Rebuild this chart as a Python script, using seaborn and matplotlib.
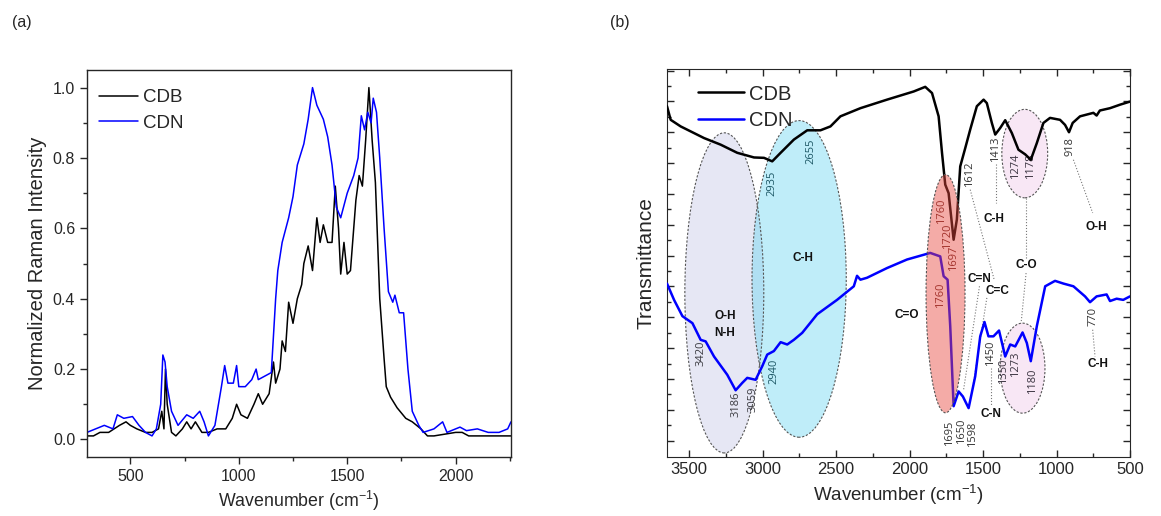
import numpy as np
import pandas as pd
import matplotlib
matplotlib.use("Agg")
import matplotlib.pyplot as plt
from matplotlib.patches import Ellipse
from matplotlib.ticker import MultipleLocator
import seaborn as sns

# ---------------- data: (a) Raman ----------------
raman_cdn_x = [300, 340, 380, 420, 440, 470, 510, 540, 570, 600, 620, 640, 650, 660, 670, 690, 720,
               760, 790, 820, 840, 860, 890, 920, 935, 950, 975, 990, 1000, 1030, 1060, 1080, 1090,
               1120, 1150, 1170, 1180, 1200, 1230, 1250, 1270, 1300, 1320, 1340, 1360, 1390, 1410,
               1430, 1450, 1470, 1500, 1530, 1550, 1565, 1580, 1595, 1610, 1620, 1635, 1650, 1670,
               1690, 1710, 1720, 1740, 1760, 1780, 1800, 1830, 1850, 1900, 1940, 1960, 2000, 2020,
               2050, 2100, 2150, 2200, 2240, 2255]
raman_cdn_y = [0.02, 0.03, 0.04, 0.03, 0.07, 0.06, 0.065, 0.04, 0.02, 0.01, 0.03, 0.10, 0.24, 0.22,
               0.15, 0.08, 0.04, 0.07, 0.06, 0.08, 0.05, 0.01, 0.04, 0.15, 0.21, 0.16, 0.16, 0.21, 0.15,
               0.15, 0.17, 0.20, 0.17, 0.18, 0.19, 0.40, 0.48, 0.56, 0.63, 0.69, 0.78, 0.84, 0.91, 1.00,
               0.95, 0.91, 0.86, 0.78, 0.66, 0.63, 0.70, 0.75, 0.80, 0.92, 0.88, 0.93, 0.90, 0.97, 0.93,
               0.80, 0.60, 0.42, 0.39, 0.41, 0.36, 0.36, 0.20, 0.08, 0.04, 0.02, 0.03, 0.05, 0.02, 0.03,
               0.035, 0.025, 0.03, 0.02, 0.02, 0.03, 0.05]
raman_cdb_x = [300, 330, 360, 400, 450, 480, 500, 530, 570, 600, 630, 645, 655, 662, 670, 690, 710,
               740, 760, 780, 800, 830, 860, 900, 940, 970, 990, 1010, 1040, 1070, 1090, 1110, 1140,
               1160, 1170, 1190, 1200, 1215, 1230, 1250, 1270, 1290, 1300, 1320, 1340, 1360, 1375,
               1390, 1410, 1430, 1445, 1460, 1470, 1485, 1500, 1515, 1540, 1555, 1570, 1585, 1600,
               1615, 1630, 1650, 1670, 1680, 1700, 1730, 1770, 1800, 1840, 1870, 1900, 2000, 2030,
               2060, 2100, 2255]
raman_cdb_y = [0.01, 0.01, 0.02, 0.02, 0.04, 0.05, 0.04, 0.03, 0.02, 0.02, 0.03, 0.08, 0.03, 0.20,
               0.10, 0.02, 0.01, 0.03, 0.05, 0.03, 0.05, 0.02, 0.02, 0.03, 0.03, 0.06, 0.10, 0.07, 0.06,
               0.10, 0.13, 0.10, 0.13, 0.22, 0.16, 0.20, 0.28, 0.25, 0.39, 0.33, 0.40, 0.44, 0.50, 0.55,
               0.48, 0.63, 0.56, 0.61, 0.56, 0.56, 0.72, 0.60, 0.47, 0.56, 0.47, 0.48, 0.68, 0.75, 0.72,
               0.85, 1.00, 0.85, 0.73, 0.40, 0.23, 0.15, 0.12, 0.09, 0.06, 0.05, 0.03, 0.01, 0.01, 0.02,
               0.02, 0.01, 0.01, 0.01]

# ---------------- data: (b) FTIR ----------------
ftir_cdb_x = [3650, 3625, 3557, 3398, 3285, 3172, 3058, 2990, 2934, 2877, 2787, 2696, 2606, 2538,
              2470, 2334, 2153, 1972, 1893, 1847, 1802, 1779, 1757, 1734, 1700, 1678, 1655, 1621,
              1587, 1542, 1496, 1474, 1440, 1417, 1383, 1349, 1304, 1259, 1213, 1175, 1134, 1089,
              1044, 976, 942, 915, 890, 840, 749, 727, 705, 636, 568, 500]
ftir_cdb_y = [0.904, 0.869, 0.852, 0.822, 0.805, 0.784, 0.772, 0.771, 0.762, 0.784, 0.818, 0.842,
              0.842, 0.852, 0.878, 0.899, 0.921, 0.942, 0.954, 0.938, 0.878, 0.784, 0.702, 0.680,
              0.560, 0.612, 0.749, 0.796, 0.844, 0.904, 0.921, 0.912, 0.861, 0.831, 0.848, 0.868,
              0.835, 0.792, 0.780, 0.766, 0.809, 0.861, 0.874, 0.869, 0.856, 0.837, 0.861, 0.878,
              0.887, 0.880, 0.893, 0.899, 0.908, 0.916]
ftir_cdn_x = [3650, 3602, 3545, 3477, 3421, 3387, 3330, 3240, 3183, 3138, 3104, 3047, 3002, 2968,
              2923, 2877, 2832, 2787, 2730, 2628, 2493, 2379, 2357, 2334, 2289, 2153, 2017, 1859,
              1791, 1768, 1741, 1723, 1700, 1666, 1637, 1598, 1553, 1519, 1490, 1463, 1429, 1391,
              1349, 1315, 1281, 1231, 1202, 1175, 1134, 1077, 1010, 953, 885, 806, 772, 727, 659,
              636, 591, 546, 500]
ftir_cdn_y = [0.447, 0.405, 0.363, 0.345, 0.302, 0.298, 0.259, 0.212, 0.172, 0.191, 0.204, 0.199,
              0.234, 0.264, 0.273, 0.296, 0.290, 0.302, 0.320, 0.368, 0.405, 0.440, 0.467, 0.457,
              0.462, 0.487, 0.509, 0.526, 0.517, 0.466, 0.457, 0.337, 0.131, 0.169, 0.156, 0.126,
              0.208, 0.311, 0.348, 0.311, 0.311, 0.326, 0.259, 0.290, 0.285, 0.321, 0.294, 0.247,
              0.337, 0.440, 0.454, 0.447, 0.440, 0.414, 0.399, 0.414, 0.419, 0.402, 0.408, 0.405,
              0.414]

# peak numbers: (text, wavenumber, y, colour group)
peak_labels = ["2935", "2655", "3420", "3186", "3059", "2940", "1760", "1720", "1697", "1760",
               "1612", "1413", "1274", "1178", "918", "1695", "1650", "1598", "1450", "1350",
               "1273", "1180", "770"]
peak_x = [2934, 2669, 3421, 3179, 3065, 2923, 1779, 1739, 1700, 1786, 1591, 1413, 1281, 1179, 908,
          1726, 1649, 1572, 1447, 1358, 1277, 1164, 754]
peak_y = [0.706, 0.788, 0.268, 0.135, 0.148, 0.221, 0.633, 0.569, 0.513, 0.418, 0.728, 0.792,
          0.749, 0.749, 0.801, 0.062, 0.066, 0.058, 0.268, 0.221, 0.238, 0.195, 0.363]
peak_col = ["#1d5866", "#1d5866", "#3a3a40", "#3a3a40", "#3a3a40", "#1d5866", "#6b2420", "#6b2420",
            "#6b2420", "#6b2420", "#333333", "#333333", "#3a3340", "#3a3340", "#333333", "#333333",
            "#333333", "#333333", "#333333", "#3a3340", "#3a3340", "#3a3340", "#333333"]

group_labels = ["O-H\nN-H", "C-H", "C=O", "C=N", "C=C", "C-H", "C-O", "O-H", "C-N", "C-H"]
group_x = [3255, 2723, 2022, 1524, 1399, 1428, 1207, 731, 1447, 715]
group_y = [0.341, 0.513, 0.367, 0.460, 0.429, 0.614, 0.494, 0.592, 0.111, 0.240]

# leader lines (x0, x1, y0, y1)
leader_x0 = [1413, 885, 1587, 1207, 1207, 1524, 1474, 1447, 754]
leader_x1 = [1413, 754, 1424, 1207, 1241, 1632, 1576, 1447, 738]
leader_y0 = [0.754, 0.766, 0.689, 0.668, 0.474, 0.440, 0.410, 0.229, 0.328]
leader_y1 = [0.655, 0.629, 0.457, 0.513, 0.345, 0.174, 0.165, 0.135, 0.259]

# ellipses: centre x, centre y, width, height, colour, alpha
ell_cx = [3260, 2751, 1755, 1216, 1231]
ell_cy = [0.423, 0.459, 0.421, 0.782, 0.229]
ell_w = [537, 641, 265, 312, 305]
ell_h = [0.825, 0.816, 0.614, 0.228, 0.232]
ell_col = ["#c4c6e6", "#5fd3f0", "#e8453c", "#e8b0e0", "#e8b0e0"]
ell_alpha = [0.42, 0.40, 0.45, 0.30, 0.30]
ell_on_top = [False, False, True, False, False]

# ---------------- plotting ----------------
sns.set_style("ticks")
plt.rcParams["font.family"] = ["Liberation Sans", "DejaVu Sans"]
plt.rcParams["mathtext.fontset"] = "custom"
plt.rcParams["mathtext.rm"] = "Liberation Sans"

fig = plt.figure(figsize=(11.61, 5.16), dpi=100)
axa = fig.add_axes([0.0749, 0.1143, 0.3652, 0.75])
axb = fig.add_axes([0.5745, 0.1143, 0.3988, 0.752])

df_a = pd.concat([
    pd.DataFrame({"x": raman_cdb_x, "y": raman_cdb_y, "s": "CDB"}),
    pd.DataFrame({"x": raman_cdn_x, "y": raman_cdn_y, "s": "CDN"}),
])
sns.lineplot(data=df_a, x="x", y="y", hue="s", palette={"CDB": "black", "CDN": "#0000ff"},
             sort=False, estimator=None, lw=1.1, ax=axa)
axa.set_xlim(300, 2255)
axa.set_ylim(-0.05, 1.05)
axa.xaxis.set_major_locator(MultipleLocator(500))
axa.xaxis.set_minor_locator(MultipleLocator(250))
axa.yaxis.set_minor_locator(MultipleLocator(0.1))
axa.set_yticks(np.arange(0, 1.01, 0.2))
axa.set_yticklabels([f"{v:.1f}" for v in np.arange(0, 1.01, 0.2)])
axa.tick_params(which="major", direction="out", length=5, width=1, labelsize=11.5)
axa.tick_params(which="minor", direction="out", length=3, width=1)
axa.set_xlabel("Wavenumber (cm$^{-1}$)", fontsize=12.8)
axa.set_ylabel("Normalized Raman Intensity", fontsize=14.5)
for sp in axa.spines.values():
    sp.set_linewidth(1.0)
axa.legend(loc="upper left", frameon=False, fontsize=13.5, handlelength=2.1,
           borderaxespad=0.0, borderpad=0.0, labelspacing=0.45, handletextpad=0.25,
           bbox_to_anchor=(0.028, 0.95))

df_b = pd.concat([
    pd.DataFrame({"x": ftir_cdb_x, "y": ftir_cdb_y, "s": "CDB"}),
    pd.DataFrame({"x": ftir_cdn_x, "y": ftir_cdn_y, "s": "CDN"}),
])
sns.lineplot(data=df_b, x="x", y="y", hue="s", palette={"CDB": "black", "CDN": "#0000ff"},
             sort=False, estimator=None, lw=1.8, ax=axb, zorder=5.5)
axb.set_xlim(3650, 500)
axb.set_ylim(0, 1)
axb.xaxis.set_major_locator(MultipleLocator(500))
axb.xaxis.set_minor_locator(MultipleLocator(250))
axb.set_yticks(np.arange(0.042, 1.0, 0.0795))
axb.set_yticks(np.arange(0.042 + 0.03975, 1.0, 0.0795), minor=True)
axb.tick_params(which="both", direction="in", top=True, right=True, labelleft=False,
                labelsize=12)
axb.tick_params(which="major", length=5, width=1)
axb.tick_params(which="minor", length=3, width=1)
axb.set_xlabel("Wavenumber (cm$^{-1}$)", fontsize=13.5)
axb.set_ylabel("Transmittance", fontsize=15, labelpad=8)
axb.legend(loc="upper left", frameon=False, fontsize=14.5, handlelength=2.3,
           borderaxespad=0.0, borderpad=0.0, labelspacing=0.38, handletextpad=0.25,
           bbox_to_anchor=(0.067, 0.96))

for x0, x1, y0, y1 in zip(leader_x0, leader_x1, leader_y0, leader_y1):
    axb.plot([x0, x1], [y0, y1], ls=":", color="#777777", lw=0.8, zorder=3)
for t, x, y, c in zip(peak_labels, peak_x, peak_y, peak_col):
    axb.text(x, y, t, rotation=90, ha="center", va="center", fontsize=8, color=c,
             family=["Open Sans", "DejaVu Sans"], zorder=4)
for t, x, y in zip(group_labels, group_x, group_y):
    axb.text(x, y, t, ha="center", va="center", fontsize=8.5, fontweight="bold", color="#111111",
             linespacing=1.6, zorder=4)
for cx, cy, w, h, c, a, top in zip(ell_cx, ell_cy, ell_w, ell_h, ell_col, ell_alpha, ell_on_top):
    z = 7 if top else 2
    axb.add_patch(Ellipse((cx, cy), w, h, facecolor=c, alpha=a, edgecolor="none", zorder=z))
    axb.add_patch(Ellipse((cx, cy), w, h, facecolor="none", edgecolor="#555555",
                          ls=(0, (2, 1.5)), lw=0.8, zorder=z + 0.1))

fig.text(0.010, 0.957, "(a)", fontsize=11.5, va="center")
fig.text(0.525, 0.957, "(b)", fontsize=11.5, va="center")

fig.savefig("out.png", dpi=100)
